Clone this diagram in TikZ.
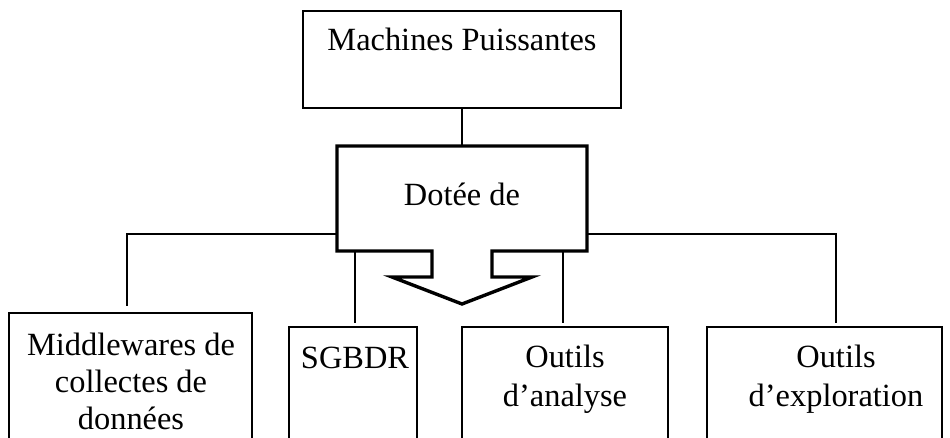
\documentclass[tikz,border=0pt]{standalone}
\usepackage{fontspec}
\setmainfont{Liberation Serif}
\usetikzlibrary{calc}
\begin{document}
\begin{tikzpicture}[x=1pt,y=-1pt,
  frame/.style={draw, line width=2.3pt, rectangle, fill=white, inner sep=0pt, outer sep=0pt, anchor=north west},
  holder/.style={rectangle, inner sep=0pt, outer sep=0pt, anchor=north west},
  conn/.style={line width=2pt},
  outline/.style={line width=3.4pt, line join=miter, fill=white},
  lbl/.style={anchor=base, inner sep=0pt, font=\fontsize{32.4}{38.5}\selectfont}]
\useasboundingbox (0,0) rectangle (950,437);
\clip (0,0) rectangle (950,437);

% boxes
\node[frame, line width=2.6pt, minimum width=318pt, minimum height=97pt] (mp) at (303,11) {};
\node[holder, minimum width=250pt, minimum height=105pt] (dot) at (337,146) {};
\node[frame, minimum width=243pt, minimum height=150pt] (mid) at (9,313) {};
\node[frame, minimum width=128pt, minimum height=140pt] (sg) at (289,327) {};
\node[frame, minimum width=206pt, minimum height=140pt] (ana) at (462,327) {};
\node[frame, minimum width=235pt, minimum height=140pt] (exp) at (707,327) {};

% junction points
\coordinate (jl) at ([yshift=17pt]dot.south west);
\coordinate (jr) at ([yshift=17pt]dot.south east);
\coordinate (ml) at ([xshift=-4pt,yshift=7pt]mid.north);
\coordinate (er) at ([xshift=11.5pt,yshift=4pt]exp.north);
\coordinate (sj) at ([xshift=18pt]dot.south west);
\coordinate (st) at ([yshift=4pt]sg.north);
\coordinate (aj) at ([xshift=-24pt]dot.south east);
\coordinate (at) at ([yshift=4pt]ana.north);

% connectors
\draw[conn] (mp.south) -- (dot.north);
\draw[conn] (jl) -| (ml);
\draw[conn] (jr) -| (er);
\draw[conn] (sj) -- (sj |- st);
\draw[conn] (aj) -- (aj |- at);

% box with downward block arrow
\draw[outline] (dot.north west) -- (dot.north east) -- (dot.south east)
  -- ($(dot.south)+(30,0)$) -- ($(dot.south)+(30,26)$) -- ($(dot.south)+(70,26)$)
  -- ($(dot.south)+(0,53)$) -- ($(dot.south)+(-70,26)$) -- ($(dot.south)+(-30,26)$)
  -- ($(dot.south)+(-30,0)$) -- (dot.south west) -- cycle;

% labels
\node[lbl] (tmp) at (462,50) {Machines Puissantes};
\node[lbl] (tdot) at (462,205) {Dotée de};
\node[lbl] (tmid1) at (131,355) {Middlewares de};
\node[lbl] (tmid2) at (131,392) {collectes de};
\node[lbl] (tmid3) at (131,429) {données};
\node[lbl] (tsg) at (355,368) {SGBDR};
\node[lbl] (tana1) at (565,367) {Outils};
\node[lbl] (tana2) at (565,406) {d’analyse};
\node[lbl] (texp1) at (836,367) {Outils};
\node[lbl] (texp2) at (836,406) {d’exploration};
\end{tikzpicture}
\end{document}
